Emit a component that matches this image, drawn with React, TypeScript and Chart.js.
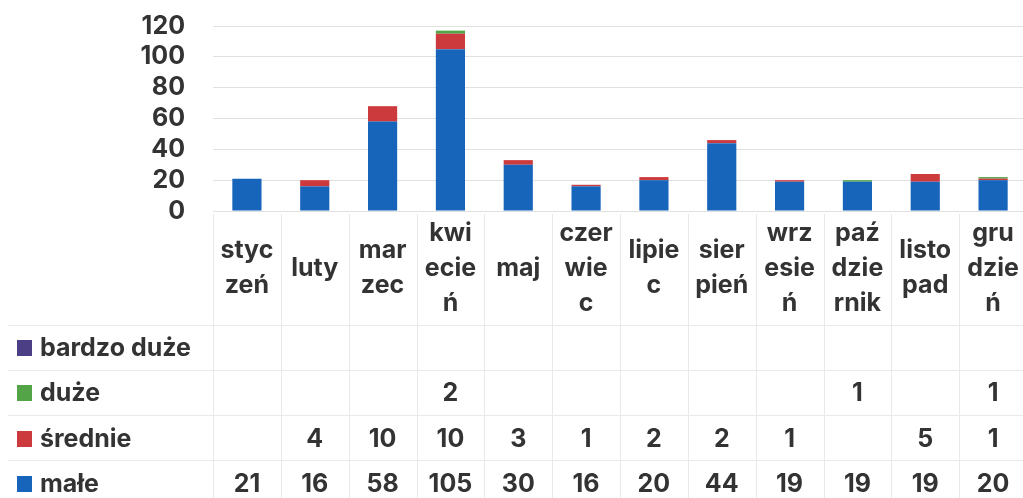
import React, { useEffect, useRef } from "react";
import { Chart, registerables } from "chart.js";

Chart.register(...registerables);

const categories = ["styczeń","luty","marzec","kwiecień","maj","czerwiec","lipiec","sierpień","wrzesień","październik","listopad","grudzień"];
const headerLines = [
  ["styc","zeń"],["luty"],["mar","zec"],["kwi","ecie","ń"],["maj"],["czer","wie","c"],
  ["lipie","c"],["sier","pień"],["wrz","esie","ń"],["paź","dzie","rnik"],["listo","pad"],["gru","dzie","ń"],
];
const seriesNames = ["małe","średnie","duże","bardzo duże"];
const male = [21,16,58,105,30,16,20,44,19,19,19,20];
const srednie = [null,4,10,10,3,1,2,2,1,null,5,1];
const duze = [null,null,null,2,null,null,null,null,null,1,null,1];
const bardzoDuze = [null,null,null,null,null,null,null,null,null,null,null,null];
const yMax = 120;
const yStep = 20;

const colors = ["#1764bb","#cc3a3e","#52a447","#4c3f85"];
const FONT = "Inter, 'Open Sans', sans-serif";

export default function App() {
  const ref = useRef<HTMLCanvasElement>(null);
  useEffect(() => {
    const canvas = ref.current!;
    const seriesData = [male, srednie, duze, bardzoDuze];
    const tablePlugin = {
      id: "tablePlugin",
      afterDraw(chart: any) {
        const ctx = chart.ctx;
        const x = chart.scales.x;
        const step = x.getPixelForValue(1) - x.getPixelForValue(0);
        const left = x.getPixelForValue(0) - step / 2;
        ctx.save();
        ctx.strokeStyle = "#e9e9e9";
        ctx.lineWidth = 1;
        const rowYs = [325, 370, 415, 460];
        rowYs.forEach((y) => {
          ctx.beginPath();
          ctx.moveTo(8, y + 0.5);
          ctx.lineTo(1040, y + 0.5);
          ctx.stroke();
        });
        for (let i = 0; i <= categories.length; i++) {
          const xx = Math.round(left + i * step) + 0.5;
          ctx.beginPath();
          ctx.moveTo(xx, 214);
          ctx.lineTo(xx, 498);
          ctx.stroke();
        }
        ctx.fillStyle = "#333333";
        ctx.font = `700 25px ${FONT}`;
        ctx.textAlign = "center";
        ctx.textBaseline = "middle";
        headerLines.forEach((lines, i) => {
          const cx = x.getPixelForValue(i);
          const lh = 35;
          const top = 268 - ((lines.length - 1) * lh) / 2;
          lines.forEach((l, j) => ctx.fillText(l, cx, top + j * lh));
        });
        const rowCenters = [484, 439, 393, 348];
        seriesData.forEach((arr, s) => {
          const cy = rowCenters[s];
          ctx.fillStyle = colors[s];
          ctx.fillRect(17, cy - 8, 15, 16);
          ctx.fillStyle = "#333333";
          ctx.textAlign = "left";
          ctx.fillText(seriesNames[s], 40, cy);
          ctx.textAlign = "center";
          arr.forEach((v, i) => {
            if (v !== null) ctx.fillText(String(v), x.getPixelForValue(i), cy);
          });
        });
        ctx.restore();
      },
    };
    const chart = new Chart(canvas, {
      type: "bar",
      data: {
        labels: categories,
        datasets: seriesData.map((d, i) => ({
          label: seriesNames[i],
          data: d,
          backgroundColor: colors[i],
          borderWidth: 0,
          categoryPercentage: 1,
          barPercentage: 0.43,
        })),
      },
      options: {
        responsive: false,
        maintainAspectRatio: false,
        animation: false,
        devicePixelRatio: 1,
        layout: { padding: { top: 26, bottom: 287, right: 13, left: 0 } },
        plugins: { legend: { display: false }, tooltip: { enabled: false } },
        scales: {
          x: { stacked: true, display: false },
          y: {
            stacked: true,
            min: 0,
            max: yMax,
            afterFit: (axis: any) => { axis.width = 213; axis.paddingTop = 0; axis.paddingBottom = 0; },
            ticks: { stepSize: yStep, autoSkip: false, padding: 28, color: "#333333", font: { family: FONT, size: 25, weight: "700" } },
            grid: { color: "#e0e0e0", drawTicks: false },
            border: { display: false },
          },
        },
      },
      plugins: [tablePlugin],
    });
    return () => chart.destroy();
  }, []);
  return (
    <div style={{ position: "fixed", left: 0, top: 0, width: 1023, height: 498, overflow: "hidden", background: "#fff" }}>
      <canvas ref={ref} width={1040} height={498} style={{ width: 1040, height: 498 }} />
    </div>
  );
}
